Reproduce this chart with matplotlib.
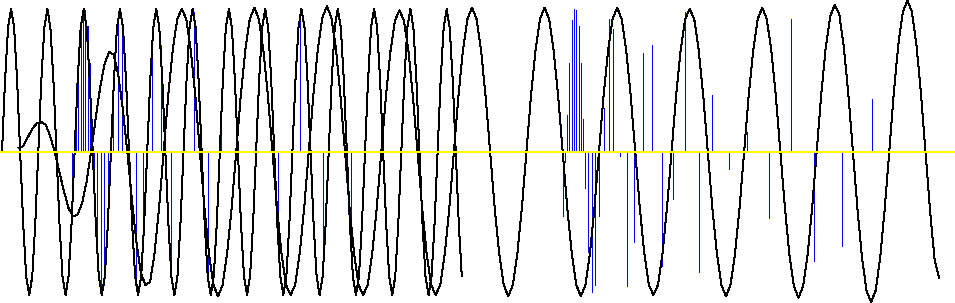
## Two sine traces, irregular samples as stems, yellow zero line
import numpy as np
import matplotlib
matplotlib.use('Agg')
import matplotlib.pyplot as plt

###################################
############# Data ################
# fast trace, read every 1/12 period (1.0 = full swing)
sig_t0 = 2.0
sig_dt = 3.025
sig = [0.00, 0.50, 0.87, 1.00, 0.87, 0.50, 0.00, -0.50, -0.87, -1.00, -0.87, -0.50,
       0.00, 0.50, 0.87, 1.00, 0.87, 0.50, 0.00, -0.50, -0.87, -1.00, -0.87, -0.50,
       0.00, 0.50, 0.87, 1.00, 0.87, 0.50, 0.00, -0.50, -0.87, -1.00, -0.87, -0.50,
       0.00, 0.50, 0.87, 1.00, 0.87, 0.50, 0.00, -0.50, -0.87, -1.00, -0.87, -0.50,
       0.00, 0.50, 0.87, 1.00, 0.87, 0.50, 0.00, -0.50, -0.87, -1.00, -0.87, -0.50,
       0.00, 0.50, 0.87, 1.00, 0.87, 0.50, 0.00, -0.50, -0.87, -1.00, -0.87, -0.50,
       0.00, 0.50, 0.87, 1.00, 0.87, 0.50, 0.00, -0.50, -0.87, -1.00, -0.87, -0.50,
       0.00, 0.50, 0.87, 1.00, 0.87, 0.50, 0.00, -0.50, -0.87, -1.00, -0.87, -0.50,
       0.00, 0.50, 0.87, 1.00, 0.87, 0.50, 0.00, -0.50, -0.87, -1.00, -0.87, -0.50,
       0.00, 0.50, 0.87, 1.00, 0.87, 0.50, 0.00, -0.50, -0.87, -1.00, -0.87, -0.50,
       0.00, 0.50, 0.87, 1.00, 0.87, 0.50, 0.00, -0.50, -0.87, -1.00, -0.87, -0.50,
       0.00, 0.50, 0.87, 1.00, 0.87, 0.50, 0.00, -0.50, -0.87, -1.00, -0.87, -0.50,
       0.00, 0.50, 0.87, 1.00, 0.87, 0.50, 0.00, -0.50, -0.87]

# slow trace (ramps up at the start), read every 1/16 period
out_t0 = 18.5
out_dt = 4.535
out = [0.03, 0.04, 0.10, 0.16, 0.20, 0.21, 0.19, 0.11, 0.00, -0.14, -0.27, -0.39, -0.45, -0.44, -0.36, -0.21,
       0.00, 0.23, 0.45, 0.62, 0.70, 0.68, 0.54, 0.30, 0.00, -0.33, -0.63, -0.85, -0.93, -0.91, -0.71, -0.39,
       0.00, 0.39, 0.71, 0.93, 1.00, 0.93, 0.71, 0.39, 0.00, -0.39, -0.71, -0.93, -1.01, -0.93, -0.71, -0.39,
       0.00, 0.39, 0.71, 0.93, 1.01, 0.93, 0.71, 0.39, 0.00, -0.39, -0.71, -0.93, -1.00, -0.93, -0.71, -0.39,
       0.00, 0.39, 0.72, 0.94, 1.02, 0.94, 0.72, 0.39, 0.00, -0.39, -0.71, -0.93, -1.00, -0.93, -0.71, -0.39,
       0.00, 0.38, 0.70, 0.92, 0.99, 0.92, 0.70, 0.38, 0.00, -0.39, -0.71, -0.93, -1.00, -0.93, -0.71, -0.39,
       0.00, 0.39, 0.71, 0.93, 1.01, 0.93, 0.71, 0.39, 0.00, -0.39, -0.71, -0.93, -1.01, -0.93, -0.71, -0.39,
       0.00, 0.39, 0.71, 0.93, 1.01, 0.93, 0.71, 0.39, 0.00, -0.39, -0.71, -0.93, -1.01, -0.93, -0.71, -0.39,
       0.00, 0.39, 0.71, 0.93, 1.01, 0.93, 0.71, 0.39, 0.00, -0.39, -0.71, -0.93, -1.00, -0.93, -0.71, -0.39,
       0.00, 0.39, 0.71, 0.93, 1.00, 0.93, 0.71, 0.39, 0.00, -0.39, -0.71, -0.93, -1.01, -0.93, -0.71, -0.39,
       0.00, 0.39, 0.71, 0.93, 1.01, 0.93, 0.71, 0.39, 0.00, -0.39, -0.72, -0.94, -1.02, -0.94, -0.72, -0.39,
       0.00, 0.40, 0.73, 0.95, 1.03, 0.96, 0.73, 0.40, 0.00, -0.40, -0.74, -0.97, -1.05, -0.97, -0.74, -0.40,
       0.00, 0.41, 0.75, 0.98, 1.06, 0.98, 0.75, 0.41, 0.00, -0.41, -0.75, -0.88]

# irregular samples of the fast trace, shown under it and again on the right
smp_t = [71.7, 74.3, 76.3, 78.3, 81.3, 83.3, 85.3, 88.3, 90.3, 92.3,
         94.3, 97.3, 101.3, 104.3, 108.3, 113.3, 118.3, 122.3, 129.3, 136.3,
         143.3, 152.3, 161.3, 171.3, 182.3, 194.3, 208.3, 221.3, 238.3, 256.3,
         277.7, 300.3, 323.3, 351.3, 381.3]
smp_v = [-0.45, -0.07, 0.26, 0.62, 0.92, 1.00, 0.99, 0.88, 0.62, 0.23,
         -0.25, -0.70, -0.98, -0.93, -0.45, 0.31, 0.93, 0.86, -0.03, -0.94,
         -0.63, 0.69, 0.75, -0.80, -0.33, 0.98, -0.84, 0.40, -0.12, 0.14,
         -0.46, 0.93, -0.76, -0.66, 0.37]
smp_shift = 491

###################################
############# Plot ################
fig = plt.figure(figsize=(9.55, 3.03), dpi=100)
ax = fig.add_axes([0, 0, 1, 1])

sig_x = sig_t0 + sig_dt * np.arange(len(sig))
out_x = out_t0 + out_dt * np.arange(len(out))
smp_x = np.array(smp_t)
n = len(smp_v)

# stems first, the traces sit on top of them
# one Line2D per copy, stems split by NaN so the path can be snapped to pixels
for x in (smp_x, smp_x + smp_shift):
    sx = np.column_stack([x, x, np.full(n, np.nan)]).ravel()
    sy = np.column_stack([np.zeros(n), smp_v, np.full(n, np.nan)]).ravel()
    ax.plot(sx, sy, color='#0000ff', lw=0.72, antialiased=False, snap=True,
            solid_capstyle='butt', zorder=1)

ax.plot(sig_x, sig, color='black', lw=0.72, antialiased=False, zorder=2)
ax.plot(out_x, out, color='black', lw=0.72, antialiased=False, zorder=2)

ax.axhline(0, color='#ffff00', lw=1.44, antialiased=False, zorder=3)

ax.set_xlim(0, 955)
ax.set_ylim(-151 / 143, 152 / 143)
ax.axis('off')

plt.savefig('out.png', dpi=100, facecolor='white')
